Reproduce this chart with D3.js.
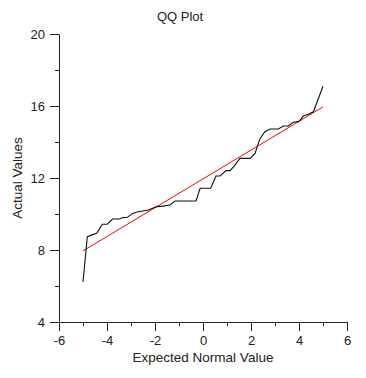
<!DOCTYPE html>
<html>
<head>
<meta charset="utf-8">
<script src="https://cdn.jsdelivr.net/npm/d3@7"></script>
<style>
  html, body { margin: 0; padding: 0; background: #fff; }
  svg { display: block; font-family: Arial, "Liberation Sans", sans-serif; }
</style>
</head>
<body>
<svg id="chart" width="366" height="378"></svg>
<script>
// Data
const expected = [-5.0, -4.82, -4.62, -4.42, -4.2, -3.99, -3.77, -3.48, -3.34, -3.15,
  -2.94, -2.76, -2.49, -2.28, -2.1, -1.93, -1.65, -1.38, -1.17, -0.29,
  -0.12, 0.32, 0.54, 0.71, 0.96, 1.13, 1.33, 1.54, 1.96, 2.17,
  2.26, 2.38, 2.58, 2.79, 3.14, 3.35, 3.55, 3.76, 3.97, 4.04,
  4.18, 4.39, 4.6, 5.0];
const actual = [6.22, 8.74, 8.84, 8.94, 9.43, 9.43, 9.72, 9.72, 9.8, 9.82,
  10.02, 10.11, 10.17, 10.22, 10.32, 10.41, 10.44, 10.5, 10.72, 10.72,
  11.43, 11.43, 12.11, 12.11, 12.41, 12.41, 12.72, 13.09, 13.09, 13.37,
  13.74, 14.2, 14.57, 14.72, 14.72, 14.89, 14.89, 15.1, 15.13, 15.2,
  15.44, 15.54, 15.68, 17.1];
const refLineX = [-5, 5];
const refLineY = [7.95, 15.95];
const xTicks = [-6, -4, -2, 0, 2, 4, 6];
const xMinorTicks = [-5, -3, -1, 1, 3, 5];
const yTicks = [4, 8, 12, 16, 20];
const yMinorTicks = [6, 10, 14, 18];
const titleText = "QQ Plot";
const xTitle = "Expected Normal Value";
const yTitle = "Actual Values";

const svg = d3.select("#chart");
const x = d3.scaleLinear().domain([-6, 6]).range([59, 347]);
const y = d3.scaleLinear().domain([4, 20]).range([322, 34]);
const axisColor = "#222";

// axes
const gx = svg.append("g").attr("transform", "translate(0,322)")
  .call(d3.axisBottom(x).tickValues(xTicks).tickSize(9).tickPadding(5).tickSizeOuter(0)
    .tickFormat(d => d < 0 ? "-" + Math.abs(d) : d));
const gxm = svg.append("g").attr("transform", "translate(0,322)")
  .call(d3.axisBottom(x).tickValues(xMinorTicks).tickSize(4).tickFormat("").tickSizeOuter(0));
gxm.select(".domain").remove();

const gy = svg.append("g").attr("transform", "translate(59,0)")
  .call(d3.axisLeft(y).tickValues(yTicks).tickSize(9).tickPadding(5).tickSizeOuter(0));
const gym = svg.append("g").attr("transform", "translate(59,0)")
  .call(d3.axisLeft(y).tickValues(yMinorTicks).tickSize(4).tickFormat("").tickSizeOuter(0));
gym.select(".domain").remove();

svg.selectAll(".domain, .tick line").attr("stroke", axisColor).attr("stroke-width", 1);
svg.selectAll(".tick text").attr("fill", "#222").style("font-size", "13px")
  .style("font-family", "Arial, 'Liberation Sans', sans-serif");

// reference line
const line = d3.line().x(d => x(d[0])).y(d => y(d[1]));
svg.append("path")
  .datum(refLineX.map((v, i) => [v, refLineY[i]]))
  .attr("d", line).attr("fill", "none").attr("stroke", "#ff0000").attr("stroke-width", 1);

// data line
svg.append("path")
  .datum(expected.map((v, i) => [v, actual[i]]))
  .attr("d", line).attr("fill", "none").attr("stroke", "#111").attr("stroke-width", 1.1);

// titles
svg.append("text").attr("x", 180).attr("y", 21).attr("text-anchor", "middle")
  .attr("fill", "#222").style("font-size", "13px").text(titleText);
svg.append("text").attr("x", 203).attr("y", 362).attr("text-anchor", "middle")
  .attr("fill", "#222").style("font-size", "13.5px").text(xTitle);
svg.append("text").attr("transform", "translate(22,178) rotate(-90)").attr("text-anchor", "middle")
  .attr("fill", "#222").style("font-size", "13.5px").text(yTitle);
</script>
</body>
</html>
